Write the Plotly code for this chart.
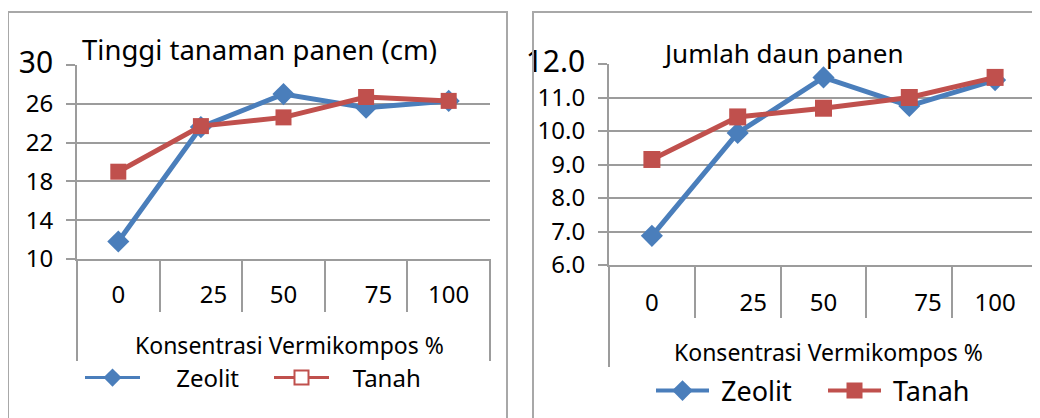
import plotly.graph_objects as go

# The page body adds an 8px margin, so figure coords = reference coords - 8
FW, FH = 1032, 410
OFF = 8

categories = ["0", "25", "50", "75", "100"]
tick_text_left = ["0", "\u00a0\u00a0\u00a0\u00a025", "50", "\u00a0\u00a0\u00a0\u00a075", "100"]
tick_text_right = ["0", "\u00a0\u00a0\u00a0\u00a0\u00a025", "50", "\u00a0\u00a0\u00a0\u00a0\u00a0\u00a075", "100"]

tinggi_zeolit = [11.8, 23.6, 27.0, 25.6, 26.3]
tinggi_tanah = [19.0, 23.7, 24.6, 26.7, 26.3]
daun_zeolit = [6.87, 9.94, 11.6, 10.75, 11.52]
daun_tanah = [9.15, 10.42, 10.68, 11.0, 11.6]

y_left_ticks = [10, 14, 18, 22, 26, 30]
y_left_text = ["10", "14", "18", "22", "26", "<span style='font-size:30px'>30</span>"]
y_right_ticks = [6, 7, 8, 9, 10, 11, 12]
y_right_text = ["6.0", "7.0", "8.0", "9.0", "10.0", "11.0", "<span style='font-size:30px'>12.0</span>"]

BLUE = "#4A7EBB"
RED = "#C0504D"
GRID = "#9c9c9c"
FRAME = "#a8a8a8"
FONT = "Noto Sans"

def px(x):
    return (x - OFF) / FW

def py(y):
    return (FH - (y - OFF)) / FH

fig = go.Figure()

# Left chart
fig.add_trace(go.Scatter(x=categories, y=tinggi_zeolit, name="Zeolit", mode="lines+markers",
                         line=dict(color=BLUE, width=5), marker=dict(symbol="diamond", size=17, color=BLUE),
                         xaxis="x", yaxis="y", showlegend=False))
fig.add_trace(go.Scatter(x=categories, y=tinggi_tanah, name="Tanah", mode="lines+markers",
                         line=dict(color=RED, width=5), marker=dict(symbol="square", size=16, color=RED),
                         xaxis="x", yaxis="y", showlegend=False))
# Left legend entries
fig.add_trace(go.Scatter(x=[None], y=[None], name="\u00a0\u00a0\u00a0\u00a0\u00a0Zeolit", mode="lines+markers",
                         line=dict(color=BLUE, width=3), marker=dict(symbol="diamond", size=14, color=BLUE),
                         xaxis="x", yaxis="y", legend="legend"))
fig.add_trace(go.Scatter(x=[None], y=[None], name="\u00a0\u00a0\u00a0Tanah", mode="lines+markers",
                         line=dict(color=RED, width=3),
                         marker=dict(symbol="square", size=14, color="white", line=dict(color=RED, width=2)),
                         xaxis="x", yaxis="y", legend="legend"))

# Right chart
fig.add_trace(go.Scatter(x=categories, y=daun_zeolit, name="Zeolit", mode="lines+markers",
                         line=dict(color=BLUE, width=5), marker=dict(symbol="diamond", size=17, color=BLUE),
                         xaxis="x2", yaxis="y2", showlegend=False))
fig.add_trace(go.Scatter(x=categories, y=daun_tanah, name="Tanah", mode="lines+markers",
                         line=dict(color=RED, width=5), marker=dict(symbol="square", size=17, color=RED),
                         xaxis="x2", yaxis="y2", showlegend=False))
# Right legend entries
fig.add_trace(go.Scatter(x=[None], y=[None], name="\u00a0Zeolit", mode="lines+markers",
                         line=dict(color=BLUE, width=4), marker=dict(symbol="diamond", size=16, color=BLUE),
                         xaxis="x2", yaxis="y2", legend="legend2"))
fig.add_trace(go.Scatter(x=[None], y=[None], name="\u00a0Tanah", mode="lines+markers",
                         line=dict(color=RED, width=4), marker=dict(symbol="square", size=16, color=RED),
                         xaxis="x2", yaxis="y2", legend="legend2"))

xaxis_common = dict(type="category", categoryorder="array", categoryarray=categories,
                    range=[-0.5, 4.5], tickson="boundaries", ticks="outside", ticklen=51,
                    tickwidth=2, tickcolor=GRID, showline=True, linecolor=GRID, linewidth=2,
                    showgrid=False, zeroline=False, tickfont=dict(family=FONT, size=24, color="#000"),
                    fixedrange=True, automargin=False)
yaxis_common = dict(ticks="outside", ticklen=9, tickwidth=2, tickcolor=GRID, showline=True,
                    linecolor=GRID, linewidth=2, showgrid=True, gridcolor=GRID, gridwidth=2,
                    zeroline=False, tickfont=dict(family=FONT, size=24, color="#000"), fixedrange=True,
                    automargin=False, ticklabelstandoff=8)

fig.update_layout(
    template="none",
    width=FW, height=FH, margin=dict(l=0, r=0, t=0, b=0, autoexpand=False),
    paper_bgcolor="white", plot_bgcolor="white",
    font=dict(family=FONT, color="#000"),
    xaxis=dict(domain=[px(77), px(490)], anchor="y", tickvals=categories, ticktext=tick_text_left,
               ticklabelstandoff=13, **xaxis_common),
    yaxis=dict(domain=[py(259), py(65)], anchor="x", range=[10, 30], tickvals=y_left_ticks,
               ticktext=y_left_text, **yaxis_common),
    xaxis2=dict(domain=[px(609), px(1038)], anchor="y2", tickvals=categories, ticktext=tick_text_right,
                ticklabelstandoff=15, **xaxis_common),
    yaxis2=dict(domain=[py(265), py(64)], anchor="x2", range=[6, 12], tickvals=y_right_ticks,
                ticktext=y_right_text, **yaxis_common),
    legend=dict(orientation="h", x=px(80), y=py(378), yanchor="middle", xanchor="left",
                font=dict(family=FONT, size=24), entrywidth=119, itemwidth=55, bgcolor="rgba(0,0,0,0)"),
    legend2=dict(orientation="h", x=px(651), y=py(391), yanchor="middle", xanchor="left",
                 font=dict(family=FONT, size=27), entrywidth=104, itemwidth=53, bgcolor="rgba(0,0,0,0)"),
    showlegend=True,
)

shapes = [
    # outer frames
    dict(type="rect", xref="paper", yref="paper", x0=px(8), x1=px(507), y0=py(12), y1=py(440),
         line=dict(color=FRAME, width=2)),
    dict(type="rect", xref="paper", yref="paper", x0=px(533), x1=px(1070), y0=py(12), y1=py(440),
         line=dict(color=FRAME, width=2)),
    # extended axis edge lines
    dict(type="line", xref="paper", yref="paper", x0=px(77), x1=px(77), y0=py(259), y1=py(361),
         line=dict(color=GRID, width=2)),
    dict(type="line", xref="paper", yref="paper", x0=px(490), x1=px(490), y0=py(259), y1=py(361),
         line=dict(color=GRID, width=2)),
    dict(type="line", xref="paper", yref="paper", x0=px(609), x1=px(609), y0=py(265), y1=py(367),
         line=dict(color=GRID, width=2)),
    dict(type="line", xref="paper", yref="paper", x0=px(1038), x1=px(1038), y0=py(265), y1=py(367),
         line=dict(color=GRID, width=2)),
]
fig.update_layout(shapes=shapes)

annotations = [
    dict(text="Tinggi tanaman panen (cm)", xref="paper", yref="paper", x=px(80), y=py(70),
         xanchor="left", yanchor="bottom", showarrow=False, font=dict(family=FONT, size=27.5)),
    dict(text="Jumlah daun panen", xref="paper", yref="paper", x=px(660), y=py(73),
         xanchor="left", yanchor="bottom", showarrow=False, font=dict(family=FONT, size=26)),
    dict(text="Konsentrasi Vermikompos %", xref="paper", yref="paper", x=px(289), y=py(345),
         xanchor="center", yanchor="middle", showarrow=False, font=dict(family=FONT, size=23)),
    dict(text="Konsentrasi Vermikompos %", xref="paper", yref="paper", x=px(828), y=py(352),
         xanchor="center", yanchor="middle", showarrow=False, font=dict(family=FONT, size=23)),
]
fig.update_layout(annotations=annotations)

fig.write_html("out.html")
